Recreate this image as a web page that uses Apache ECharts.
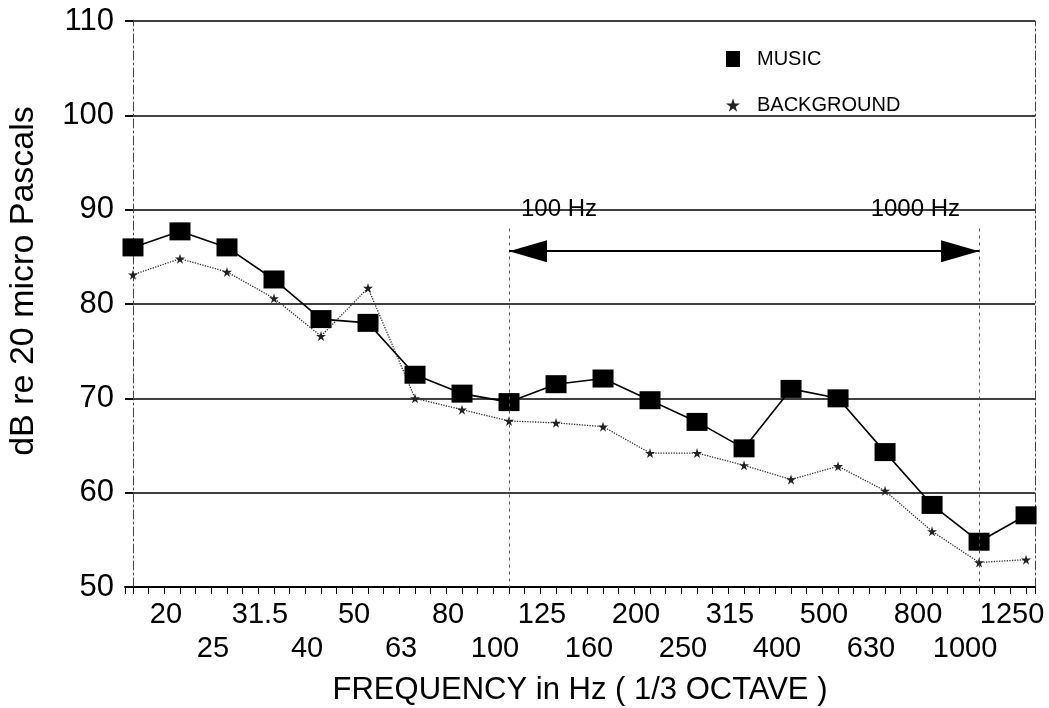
<!DOCTYPE html>
<html><head><meta charset="utf-8">
<script src="https://cdn.jsdelivr.net/npm/echarts@6/dist/echarts.min.js"></script>
<style>html,body{margin:0;padding:0;background:#fff}#c{width:1049px;height:708px}</style>
</head><body><div id="c"></div>
<script>
// 1/3-octave band centre frequencies (Hz); first band (16 Hz) carries no printed label
const freqLabels = ['16','20','25','31.5','40','50','63','80','100','125','160','200','250','315','400','500','630','800','1000','1250'];
const musicDb = [86.0, 87.7, 86.0, 82.6, 78.4, 78.0, 72.5, 70.5, 69.6, 71.5, 72.1, 69.8, 67.5, 64.7, 71.0, 70.0, 64.3, 58.7, 54.8, 57.6];
const backgroundDb = [83.1, 84.8, 83.4, 80.6, 76.6, 81.7, 70.0, 68.8, 67.6, 67.4, 67.0, 64.2, 64.2, 62.9, 61.4, 62.8, 60.2, 55.9, 52.6, 52.9];
const yMin = 50, yMax = 110, yStep = 10;
const bandEdgeIdx = [8, 18];           // 100 Hz and 1000 Hz bands
const bandEdgeText = ['100 Hz', '1000 Hz'];
const bandLineTopDb = 88;
const arrowDb = 85.6;
const textDb = 90;

const FONT = "'Liberation Sans', Arial, Helvetica, sans-serif";
const STAR = 'path://M50,0 L61,35 L98,35 L68,57 L79,91 L50,70 L21,91 L32,57 L2,35 L39,35 Z';

const chart = echarts.init(document.getElementById('c'), null, {renderer: 'canvas'});
chart.setOption({
  backgroundColor: '#fff',
  animation: false,
  textStyle: {fontFamily: FONT, color: '#000'},
  grid: {left: 125, right: 14, top: 21, bottom: 121, containLabel: false, outerBoundsMode: 'none'},
  legend: {
    orient: 'vertical', left: 721, top: 44, itemGap: 26,
    itemWidth: 14, itemHeight: 16,
    textStyle: {fontSize: 20, color: '#000', fontFamily: FONT, padding: [0, 0, 0, 12]},
    data: [{name: 'MUSIC', icon: 'rect'}, {name: 'BACKGROUND', icon: STAR}]
  },
  xAxis: {
    type: 'value', min: -0.17, max: 19.19, splitNumber: 20,
    name: 'FREQUENCY in Hz ( 1/3 OCTAVE )', nameLocation: 'middle', nameGap: 87,
    nameTextStyle: {fontSize: 31, color: '#000', lineHeight: 32, fontFamily: FONT},
    axisLine: {show: true, onZero: false, lineStyle: {color: '#000', width: 2}},
    axisTick: {show: true, inside: false, length: 7, lineStyle: {color: '#000', width: 1}},
    minorTick: {show: true, splitNumber: 3, length: 7, lineStyle: {color: '#000', width: 1}},
    splitLine: {show: false}, minorSplitLine: {show: false},
    axisLabel: {
      margin: 8, color: '#000', fontFamily: FONT, showMinLabel: true, showMaxLabel: true,
      formatter: function (v) {
        const i = Math.round(v);
        if (Math.abs(v - i) > 1e-6 || i < 1 || i >= freqLabels.length) return '';
        return i % 2 === 1 ? '{a|' + freqLabels[i] + '}' : '{s| }\n{b|' + freqLabels[i] + '}';
      },
      rich: {
        a: {fontSize: 29, lineHeight: 40, padding: [0, 28, 0, 0], fontFamily: FONT, color: '#000'},
        s: {fontSize: 29, lineHeight: 40, fontFamily: FONT},
        b: {fontSize: 29, lineHeight: 28, padding: [0, 28, 0, 0], fontFamily: FONT, color: '#000'}
      }
    }
  },
  yAxis: [{
    type: 'value', min: yMin, max: yMax, interval: yStep,
    name: 'dB re 20 micro Pascals', nameLocation: 'middle', nameGap: 84, nameRotate: 90,
    nameTextStyle: {fontSize: 34, color: '#000', fontFamily: FONT, padding: [0, 0, 0, 46]},
    axisLine: {show: true, lineStyle: {color: '#444', width: 1, type: [9, 3, 2, 3]}},
    axisTick: {show: true, inside: false, length: 8, lineStyle: {color: '#000', width: 1.5}},
    axisLabel: {fontSize: 31, color: '#000', margin: 11, fontFamily: FONT},
    splitLine: {show: true, lineStyle: {color: '#000', width: 1.6}}
  }, {
    type: 'value', min: yMin, max: yMax, interval: yStep, position: 'right',
    axisLine: {show: true, lineStyle: {color: '#444', width: 1, type: [9, 3, 2, 3]}},
    axisTick: {show: false}, axisLabel: {show: false}, splitLine: {show: false}
  }],
  series: [{
    name: 'MUSIC', type: 'line',
    data: musicDb.map((v, i) => [i, v]),
    symbol: 'rect', symbolSize: [21, 18],
    itemStyle: {color: '#000'},
    lineStyle: {color: '#000', width: 1.6},
    z: 3,
    markLine: {
      silent: true, symbol: 'none', animation: false,
      label: {show: false},
      data: [
        [{coord: [bandEdgeIdx[0], bandLineTopDb], lineStyle: {type: [3, 4], color: '#555', width: 1}}, {coord: [bandEdgeIdx[0], yMin]}],
        [{coord: [bandEdgeIdx[1], bandLineTopDb], lineStyle: {type: [3, 4], color: '#555', width: 1}}, {coord: [bandEdgeIdx[1], yMin]}],
        [{coord: [bandEdgeIdx[0], arrowDb], lineStyle: {type: 'solid', color: '#000', width: 2}}, {coord: [bandEdgeIdx[1], arrowDb]}]
      ]
    },
    markPoint: {
      silent: true, animation: false,
      data: [
        {coord: [bandEdgeIdx[0], arrowDb], symbol: 'path://M0,11 L38,0 L38,22 Z', symbolSize: [38, 22], symbolOffset: [19, 0], itemStyle: {color: '#000'}, label: {show: false}},
        {coord: [bandEdgeIdx[1], arrowDb], symbol: 'path://M38,11 L0,0 L0,22 Z', symbolSize: [38, 22], symbolOffset: [-19, 0], itemStyle: {color: '#000'}, label: {show: false}},
        {coord: [bandEdgeIdx[0], textDb], symbol: 'rect', symbolSize: 0, label: {show: true, position: 'right', distance: 12, formatter: bandEdgeText[0], fontSize: 24, color: '#000', fontFamily: FONT}},
        {coord: [bandEdgeIdx[1], textDb], symbol: 'rect', symbolSize: 0, label: {show: true, position: 'left', distance: 19, formatter: bandEdgeText[1], fontSize: 24, color: '#000', fontFamily: FONT}}
      ]
    }
  }, {
    name: 'BACKGROUND', type: 'line',
    data: backgroundDb.map((v, i) => [i, v]),
    symbol: STAR, symbolSize: 10,
    itemStyle: {color: '#222'},
    lineStyle: {color: '#333', width: 1.3, type: 'dotted'},
    z: 2
  }]
});
</script></body></html>
